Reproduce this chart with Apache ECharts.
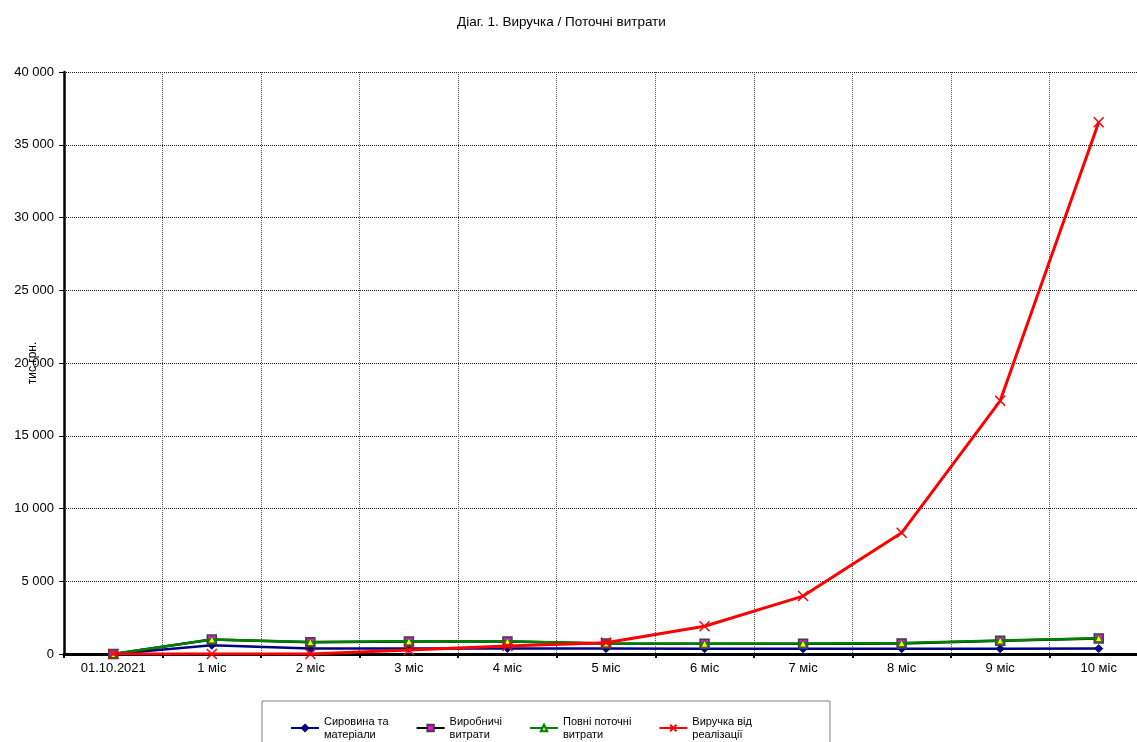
<!DOCTYPE html>
<html>
<head>
<meta charset="utf-8">
<title>Діаг. 1. Виручка / Поточні витрати</title>
<script src="https://cdn.jsdelivr.net/npm/echarts@6/dist/echarts.min.js"></script>
<style>
  html, body { margin: 0; padding: 0; background: #fff; }
  #chart { width: 1137px; height: 742px; }
</style>
</head>
<body>
<div id="chart"></div>
<script>
// Periods on the horizontal axis
const periods = ['01.10.2021', '1 міс', '2 міс', '3 міс', '4 міс', '5 міс', '6 міс', '7 міс', '8 міс', '9 міс', '10 міс'];

// Values, thousand UAH
const rawMaterials   = [0, 600, 370, 380, 380, 370, 360, 360, 360, 360, 370];
const productionCost = [0, 990, 800, 860, 860, 720, 700, 710, 730, 910, 1070];
const totalCost      = [0, 1000, 820, 870, 870, 730, 710, 720, 750, 930, 1090];
const revenue        = [0, 0, 0, 270, 550, 780, 1910, 3980, 8330, 17400, 36540];

// Value-axis ticks
const yMin = 0, yMax = 40000, yStep = 5000;

const seriesNames = ['Сировина та\nматеріали', 'Виробничі\nвитрати', 'Повні поточні\nвитрати', 'Виручка від\nреалізації'];

const font = 'Arial, "Liberation Sans", sans-serif';
const crossPath = 'path://M0,0L10,10M10,0L0,10';

const chart = echarts.init(document.getElementById('chart'), null, { renderer: 'canvas' });

chart.setOption({
  animation: false,
  backgroundColor: '#ffffff',
  title: {
    text: 'Діаг. 1. Виручка / Поточні витрати',
    left: 457,
    top: 15,
    padding: 0,
    textStyle: { fontFamily: font, fontSize: 13.5, fontWeight: 'normal', color: '#000' }
  },
  legend: {
    left: 262,
    top: 701,
    orient: 'horizontal',
    padding: [14, 78, 14, 28],
    itemGap: 27,
    itemWidth: 28,
    itemHeight: 8,
    borderColor: '#808080',
    borderWidth: 1,
    textStyle: { fontFamily: font, fontSize: 11, color: '#000', lineHeight: 13 },
    data: seriesNames
  },
  grid: { left: 64, top: 72, width: 1084, bottom: 88, containLabel: false, outerBoundsMode: 'none' },
  xAxis: [{
    type: 'category',
    data: periods,
    boundaryGap: true,
    position: 'bottom',
    axisLine: { show: true, onZero: false, lineStyle: { color: '#000', width: 3 } },
    axisTick: { show: true, inside: false, length: 4, alignWithLabel: false, lineStyle: { color: '#000', width: 2 } },
    axisLabel: { margin: 8, fontFamily: font, fontSize: 13, color: '#000' },
    splitLine: { show: true, lineStyle: { color: '#555', type: 'dotted', width: 1 } }
  }, {
    type: 'category',
    data: periods,
    position: 'top',
    axisLine: { show: true, lineStyle: { color: '#000', width: 2 } },
    axisTick: { show: false },
    axisLabel: { show: false },
    splitLine: { show: false }
  }],
  yAxis: {
    type: 'value',
    min: yMin,
    max: yMax,
    interval: yStep,
    name: 'тис.грн.',
    nameLocation: 'middle',
    nameRotate: 90,
    nameGap: 25,
    nameMoveOverlap: false,
    nameTextStyle: { fontFamily: font, fontSize: 12, color: '#000' },
    axisLine: { show: true, lineStyle: { color: '#000', width: 2.5 } },
    axisTick: { show: true, length: 5, lineStyle: { color: '#000', width: 1 } },
    axisLabel: {
      margin: 10,
      fontFamily: font,
      fontSize: 13,
      color: '#000',
      formatter: v => String(v).replace(/\B(?=(\d{3})+(?!\d))/g, ' ')
    },
    splitLine: { show: true, lineStyle: { color: '#222', type: 'dotted', width: 1 } }
  },
  series: [
    {
      name: seriesNames[0],
      type: 'line',
      data: rawMaterials,
      symbol: 'diamond',
      symbolSize: 8,
      showAllSymbol: true,
      lineStyle: { color: '#000080', width: 2.5 },
      itemStyle: { color: '#000080', borderColor: '#000080', borderWidth: 1 },
      z: 2
    },
    {
      name: seriesNames[1],
      type: 'line',
      data: productionCost,
      symbol: 'rect',
      symbolSize: 9,
      showAllSymbol: true,
      lineStyle: { color: '#000000', width: 2.5 },
      itemStyle: { color: '#ff00ff', borderColor: '#404040', borderWidth: 1.5 },
      z: 3
    },
    {
      name: seriesNames[2],
      type: 'line',
      data: totalCost,
      symbol: 'triangle',
      symbolSize: 7,
      showAllSymbol: true,
      lineStyle: { color: '#008000', width: 2.5 },
      itemStyle: { color: '#ffff00', borderColor: '#008000', borderWidth: 1 },
      z: 4
    },
    {
      name: seriesNames[3],
      type: 'line',
      data: revenue,
      symbol: crossPath,
      symbolSize: 10,
      showAllSymbol: true,
      lineStyle: { color: '#ff0000', width: 3 },
      itemStyle: { color: '#ff0000', borderColor: '#ff0000', borderWidth: 1.5 },
      z: 5
    }
  ]
});
</script>
</body>
</html>
